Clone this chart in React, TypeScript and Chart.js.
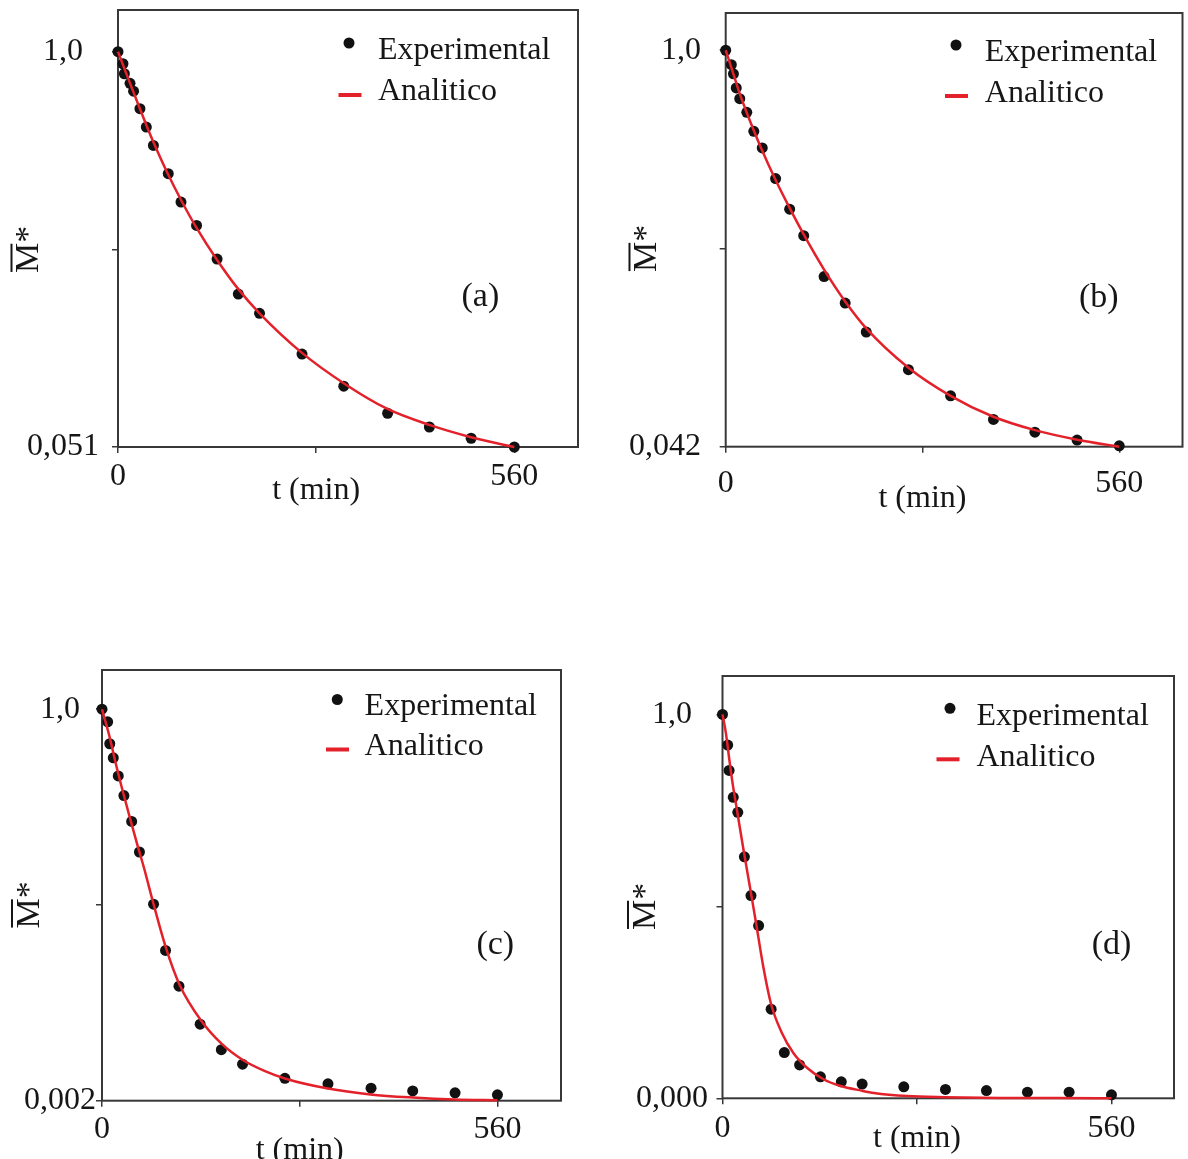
import React, { useEffect, useRef } from 'react';
import { Chart, registerables } from 'chart.js';

Chart.register(...registerables);

const SERIF = '"Liberation Serif", "Times New Roman", serif';
const TEXT = '#161616';
const AXIS = '#383838';
const RED = '#e3212b';
const DOT = '#111111';

// shared axis data
const xTicks = [0, 280, 560];
const xTickLabels = ['0', '', '560'];
const xTitle = 't (min)';
const seriesNames = ['Experimental', 'Analitico'];

// ---- panel (a) ----
const tExpA = [0, 7, 9, 17, 22, 31, 40, 50, 71, 89, 111, 140, 170, 200, 260, 319, 381, 440, 499, 560];
const vExpA = [1.0, 0.971, 0.947, 0.924, 0.905, 0.863, 0.819, 0.775, 0.707, 0.639, 0.583, 0.502, 0.418, 0.372, 0.274, 0.197, 0.132, 0.099, 0.072, 0.051];
const tCurA = [0, 10, 20, 30, 40, 50, 70, 90, 110, 140, 170, 200, 260, 320, 380, 440, 500, 560];
const vCurA = [1.0, 0.955, 0.911, 0.867, 0.824, 0.783, 0.708, 0.641, 0.58, 0.5, 0.43, 0.372, 0.277, 0.203, 0.143, 0.104, 0.074, 0.051];
const yLabelsA = ['0,051', '', '1,0'];

// ---- panel (b) ----
const tExpB = [0, 8, 11, 15, 20, 30, 40, 52, 71, 91, 111, 140, 170, 200, 260, 320, 381, 440, 500, 560];
const vExpB = [1.0, 0.965, 0.943, 0.909, 0.883, 0.85, 0.804, 0.764, 0.69, 0.616, 0.552, 0.453, 0.389, 0.319, 0.228, 0.165, 0.108, 0.077, 0.058, 0.044];
const tCurB = [0, 10, 20, 30, 40, 50, 70, 90, 110, 140, 170, 200, 260, 320, 380, 440, 500, 560];
const vCurB = [1.0, 0.948, 0.895, 0.849, 0.806, 0.765, 0.69, 0.622, 0.558, 0.47, 0.393, 0.328, 0.233, 0.165, 0.115, 0.082, 0.059, 0.042];
const yLabelsB = ['0,042', '', '1,0'];

// ---- panel (c) ----
const tExpC = [0, 8, 11, 16, 23, 31, 42, 53, 73, 90, 109, 139, 169, 199, 259, 320, 381, 440, 500, 560];
const vExpC = [1.0, 0.968, 0.912, 0.876, 0.83, 0.78, 0.714, 0.636, 0.503, 0.385, 0.294, 0.197, 0.132, 0.095, 0.059, 0.045, 0.034, 0.027, 0.022, 0.017];
const tCurC = [0, 10, 20, 30, 40, 50, 60, 72, 90, 110, 140, 170, 200, 230, 260, 320, 380, 440, 500, 560];
const vCurC = [1.0, 0.935, 0.858, 0.787, 0.72, 0.655, 0.592, 0.51, 0.395, 0.297, 0.207, 0.146, 0.105, 0.078, 0.058, 0.033, 0.018, 0.01, 0.005, 0.003];
const yLabelsC = ['0,002', '', '1,0'];

// ---- panel (d) ----
const tExpD = [0, 7.5, 9.5, 15.5, 22, 31.5, 41, 52, 70, 89, 111, 141, 171, 201, 261, 321, 380, 439, 499, 560];
const vExpD = [1.0, 0.92, 0.854, 0.784, 0.745, 0.629, 0.528, 0.45, 0.232, 0.119, 0.087, 0.056, 0.043, 0.037, 0.03, 0.023, 0.02, 0.016, 0.016, 0.009];
const tCurD = [0, 5, 10, 15, 20, 30, 40, 48, 59, 70, 85, 102, 122, 146, 170, 200, 218, 266, 320, 400, 480, 560];
const vCurD = [1.0, 0.95, 0.88, 0.815, 0.76, 0.65, 0.545, 0.46, 0.34, 0.245, 0.172, 0.118, 0.079, 0.049, 0.032, 0.02, 0.014, 0.006, 0.003, 0.001, 0.0005, 0.0003];
const yLabelsD = ['0,000', '', '1,0'];

type Panel = {
  letter: string;
  tExp: number[]; vExp: number[]; tCur: number[]; vCur: number[];
  yLabels: string[]; yMin: number; yMax: number;
  left: number; top: number; w: number; h: number;
  padTop: number; padRight: number; yAxisW: number; xAxisH: number;
  yCross: 'near' | 'center'; yTickPad: number; xTickPad: number;
  xTitleBase: number; yTitleBase: number;
  letterT: number; letterV: number;
  lg: { dotX: number; dotY: number; textX: number; base1: number; dashX: number; dashY: number; base2: number };
};

const panels: Panel[] = [
  {
    letter: '(a)', tExp: tExpA, vExp: vExpA, tCur: tCurA, vCur: vCurA, yLabels: yLabelsA, yMin: 0.051, yMax: 1.1,
    left: 0, top: 0, w: 594, h: 520, padTop: 10, padRight: 16, yAxisW: 118, xAxisH: 73,
    yCross: 'center', yTickPad: 13, xTickPad: 4.5, xTitleBase: 52, yTitleBase: 80,
    letterT: 512, letterV: 0.411,
    lg: { dotX: -229, dotY: 33, textX: -200, base1: 49, dashX: -228, dashY: 85, base2: 90 },
  },
  {
    letter: '(b)', tExp: tExpB, vExp: vExpB, tCur: tCurB, vCur: vCurB, yLabels: yLabelsB, yMin: 0.042, yMax: 1.09,
    left: 594, top: 0, w: 594, h: 520, padTop: 13, padRight: 1.5, yAxisW: 131.7, xAxisH: 73.3,
    yCross: 'near', yTickPad: 18.7, xTickPad: 11.4, xTitleBase: 60, yTitleBase: 69.7,
    letterT: 531, letterV: 0.401,
    lg: { dotX: -226.5, dotY: 32, textX: -197.7, base1: 47.5, dashX: -226, dashY: 83, base2: 88.5 },
  },
  {
    letter: '(c)', tExp: tExpC, vExp: vExpC, tCur: tCurC, vCur: vCurC, yLabels: yLabelsC, yMin: 0.002, yMax: 1.1,
    left: 0, top: 640, w: 594, h: 519, padTop: 30, padRight: 33, yAxisW: 102, xAxisH: 58.3,
    yCross: 'center', yTickPad: 0, xTickPad: 4.1, xTitleBase: 58, yTitleBase: 63.5,
    letterT: 557, letterV: 0.399,
    lg: { dotX: -223.7, dotY: 29.5, textX: -196.4, base1: 45, dashX: -223.5, dashY: 79.5, base2: 85 },
  },
  {
    letter: '(d)', tExp: tExpD, vExp: vExpD, tCur: tCurD, vCur: vCurD, yLabels: yLabelsD, yMin: 0, yMax: 1.1,
    left: 594, top: 640, w: 594, h: 519, padTop: 36, padRight: 14, yAxisW: 128.5, xAxisH: 60.7,
    yCross: 'center', yTickPad: 8.5, xTickPad: 4.8, xTitleBase: 49, yTitleBase: 68,
    letterT: 560, letterV: 0.399,
    lg: { dotX: -224, dotY: 32.3, textX: -197.6, base1: 49, dashX: -226, dashY: 83.3, base2: 90 },
  },
];

function extrasPlugin(p: Panel) {
  return {
    id: 'extras',
    beforeDatasetsDraw(chart: any) {
      const { ctx, chartArea: ca } = chart;
      ctx.save();
      ctx.strokeStyle = AXIS;
      ctx.lineWidth = 2;
      ctx.strokeRect(ca.left, ca.top, ca.right - ca.left, ca.bottom - ca.top);
      ctx.restore();
    },
    afterDraw(chart: any) {
      const { ctx, chartArea: ca, scales } = chart;
      const xs = scales.x;
      const ys = scales.y;
      ctx.save();
      ctx.fillStyle = TEXT;

      // x axis title
      ctx.font = `32px ${SERIF}`;
      ctx.textAlign = 'center';
      ctx.textBaseline = 'alphabetic';
      ctx.fillText(xTitle, xs.getPixelForValue(xTicks[1]), ca.bottom + p.xTitleBase);

      // panel letter
      ctx.font = `34px ${SERIF}`;
      ctx.textBaseline = 'middle';
      ctx.fillText(p.letter, xs.getPixelForValue(p.letterT), ys.getPixelForValue(p.letterV));

      // legend
      const expLabel = chart.data.datasets[1].label;
      const anaLabel = chart.data.datasets[0].label;
      ctx.font = `32px ${SERIF}`;
      ctx.textAlign = 'left';
      ctx.textBaseline = 'alphabetic';
      ctx.fillStyle = DOT;
      ctx.beginPath();
      ctx.arc(ca.right + p.lg.dotX, ca.top + p.lg.dotY, 5.5, 0, Math.PI * 2);
      ctx.fill();
      ctx.fillStyle = TEXT;
      ctx.fillText(expLabel, ca.right + p.lg.textX, ca.top + p.lg.base1);
      ctx.strokeStyle = RED;
      ctx.lineWidth = 4;
      ctx.beginPath();
      ctx.moveTo(ca.right + p.lg.dashX - 11.5, ca.top + p.lg.dashY);
      ctx.lineTo(ca.right + p.lg.dashX + 11.5, ca.top + p.lg.dashY);
      ctx.stroke();
      ctx.fillText(anaLabel, ca.right + p.lg.textX, ca.top + p.lg.base2);

      // y axis title: M with overline and asterisk, rotated
      const midY = ys.getPixelForValue((p.yMin + 1) / 2);
      ctx.translate(ca.left - p.yTitleBase, midY);
      ctx.rotate(-Math.PI / 2);
      const fs = 34;
      ctx.font = `${fs}px ${SERIF}`;
      const wM = ctx.measureText('M').width;
      const wS = ctx.measureText('*').width;
      const x0 = -(wM + wS) / 2;
      ctx.fillText('M', x0, 0);
      ctx.fillText('*', x0 + wM, 0);
      ctx.fillRect(x0 + 1, -fs * 0.662 - 5, wM - 2, 2);
      ctx.restore();
    },
  };
}

function makeConfig(p: Panel): any {
  const yTicks = [p.yMin, (p.yMin + 1) / 2, 1];
  const tickFont = { family: SERIF, size: 32 };
  return {
    type: 'scatter',
    data: {
      datasets: [
        {
          label: seriesNames[1],
          data: p.tCur.map((t, i) => ({ x: t, y: p.vCur[i] })),
          showLine: true,
          borderColor: RED,
          borderWidth: 2.5,
          pointRadius: 0,
          pointHoverRadius: 0,
          cubicInterpolationMode: 'monotone',
          fill: false,
          clip: false,
          order: 0,
        },
        {
          label: seriesNames[0],
          data: p.tExp.map((t, i) => ({ x: t, y: p.vExp[i] })),
          showLine: false,
          pointRadius: 5.5,
          pointHoverRadius: 5.5,
          backgroundColor: DOT,
          borderWidth: 0,
          clip: false,
          order: 1,
        },
      ],
    },
    options: {
      animation: false,
      responsive: false,
      maintainAspectRatio: false,
      devicePixelRatio: 1,
      events: [],
      layout: { padding: { top: p.padTop, right: p.padRight, left: 0, bottom: 0 } },
      plugins: { legend: { display: false }, tooltip: { enabled: false }, title: { display: false } },
      scales: {
        x: {
          type: 'linear',
          position: 'bottom',
          min: 0,
          max: 650,
          afterBuildTicks: (s: any) => { s.ticks = xTicks.map((v) => ({ value: v })); },
          afterFit: (s: any) => {
            s.height = p.xAxisH;
            s.paddingLeft = 0; s.paddingRight = 0; s.paddingTop = 0; s.paddingBottom = 0;
          },
          ticks: {
            autoSkip: false, maxRotation: 0, minRotation: 0, padding: p.xTickPad,
            color: TEXT, font: tickFont,
            callback: (_v: any, i: number) => xTickLabels[i],
          },
          grid: { display: true, drawOnChartArea: false, drawTicks: true, tickLength: 6, color: AXIS, lineWidth: 1.5 },
          border: { display: false },
        },
        y: {
          type: 'linear',
          position: 'left',
          min: p.yMin,
          max: p.yMax,
          afterBuildTicks: (s: any) => { s.ticks = yTicks.map((v) => ({ value: v })); },
          afterFit: (s: any) => {
            s.width = p.yAxisW;
            s.paddingLeft = 0; s.paddingRight = 0; s.paddingTop = 0; s.paddingBottom = 0;
          },
          ticks: {
            autoSkip: false, padding: p.yTickPad, crossAlign: p.yCross,
            color: TEXT, font: tickFont,
            callback: (_v: any, i: number) => p.yLabels[i],
          },
          grid: { display: true, drawOnChartArea: false, drawTicks: true, tickLength: 6, color: AXIS, lineWidth: 1.5 },
          border: { display: false },
        },
      },
    },
    plugins: [extrasPlugin(p)],
  };
}

function PanelChart({ p }: { p: Panel }) {
  const ref = useRef<HTMLCanvasElement>(null);
  useEffect(() => {
    if (!ref.current) return;
    const chart = new Chart(ref.current, makeConfig(p));
    return () => chart.destroy();
  }, [p]);
  return (
    <canvas
      ref={ref}
      width={p.w}
      height={p.h}
      style={{ position: 'absolute', left: p.left, top: p.top, width: p.w, height: p.h }}
    />
  );
}

export default function App() {
  return (
    <div style={{ position: 'absolute', left: 0, top: 0, width: 1188, height: 1159, background: '#ffffff', overflow: 'hidden' }}>
      {panels.map((p) => (
        <PanelChart key={p.letter} p={p} />
      ))}
    </div>
  );
}
